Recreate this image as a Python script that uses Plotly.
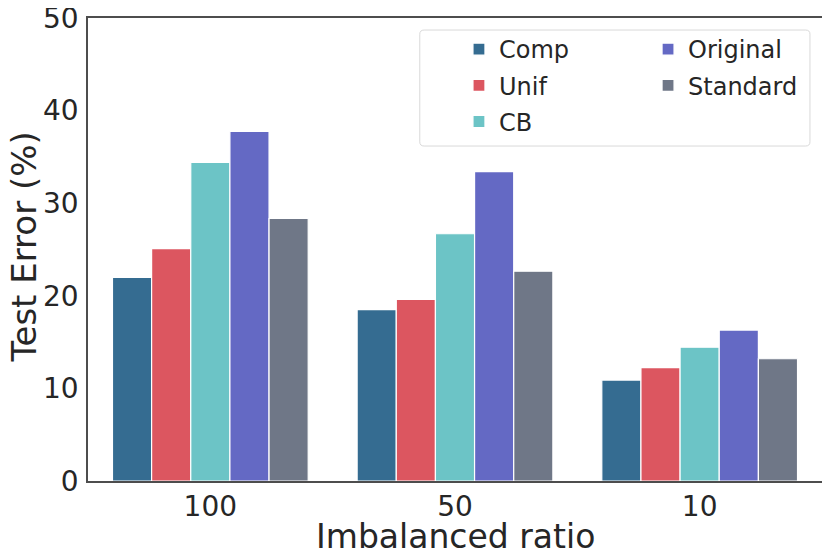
import plotly.graph_objects as go

categories = ["100", "50", "10"]
methods = ["Comp", "Unif", "CB", "Original", "Standard"]
comp = [22.0, 18.5, 10.9]
unif = [25.1, 19.6, 12.25]
cb = [34.4, 26.7, 14.45]
original = [37.75, 33.4, 16.3]
standard = [28.35, 22.65, 13.2]
series = [comp, unif, cb, original, standard]
colors = ["#356c91", "#dc5660", "#6cc4c6", "#6469c4", "#6f7787"]
legend_of = ["legend", "legend", "legend", "legend2", "legend2"]
x_title = "Imbalanced ratio"
y_title = "Test Error (%)"

FONT = "DejaVu Sans"
TXT = "#262626"

fig = go.Figure()
for name, vals, col, lg in zip(methods, series, colors, legend_of):
    fig.add_trace(go.Bar(
        x=categories, y=vals, name=name, legend=lg, legendgroup=name,
        marker=dict(color=col, line=dict(color="white", width=1.2)),
    ))

# legend frame
x0, x1, y0, y1 = 0.452, 0.9836, 0.7235, 0.974
rx, ry = 0.006, 0.009
path = (f"M{x0+rx},{y0} L{x1-rx},{y0} Q{x1},{y0} {x1},{y0+ry} "
        f"L{x1},{y1-ry} Q{x1},{y1} {x1-rx},{y1} L{x0+rx},{y1} "
        f"Q{x0},{y1} {x0},{y1-ry} L{x0},{y0+ry} Q{x0},{y0} {x0+rx},{y0} Z")

fig.update_layout(
    width=830, height=560,
    margin=dict(l=80, r=16, t=10, b=87),
    paper_bgcolor="white", plot_bgcolor="white",
    font=dict(family=FONT, color=TXT, size=28),
    bargap=0.2, bargroupgap=0,
    shapes=[dict(type="path", xref="paper", yref="paper", path=path,
                 line=dict(color="#d9d9d9", width=1), fillcolor="rgba(255,255,255,0.8)",
                 layer="below")],
    annotations=[
        dict(text=x_title, xref="paper", yref="paper", x=0.5, y=0,
             xanchor="center", yanchor="middle", yshift=-55, showarrow=False,
             font=dict(size=33, family=FONT, color=TXT)),
        dict(text=y_title, xref="paper", yref="paper", x=0, y=0.5,
             xanchor="center", yanchor="middle", xshift=-65, yshift=2,
             textangle=-90, showarrow=False,
             font=dict(size=34, family=FONT, color=TXT)),
    ],
    legend=dict(x=0.5054, y=0.9806, xanchor="left", yanchor="top",
                font=dict(family=FONT, size=24, color=TXT),
                bgcolor="rgba(0,0,0,0)", tracegroupgap=2),
    legend2=dict(x=0.763, y=0.9806, xanchor="left", yanchor="top",
                 font=dict(family=FONT, size=24, color=TXT),
                 bgcolor="rgba(0,0,0,0)", tracegroupgap=2),
    xaxis=dict(
        range=[-0.5, 2.5], showline=True, linecolor="#4d4d4d", linewidth=1.5,
        mirror=True, ticks="", showgrid=False, automargin=False,
        ticklabeloverflow="allow",
        tickfont=dict(size=28, family=FONT, color=TXT),
    ),
    yaxis=dict(
        range=[0, 50], tickvals=[0, 10, 20, 30, 40, 50], showline=True,
        linecolor="#4d4d4d", linewidth=1.5, mirror=True, ticks="", showgrid=False,
        zeroline=False, ticklabelstandoff=2, automargin=False,
        ticklabeloverflow="allow",
        tickfont=dict(size=28, family=FONT, color=TXT),
    ),
)

fig.write_html("out.html")
